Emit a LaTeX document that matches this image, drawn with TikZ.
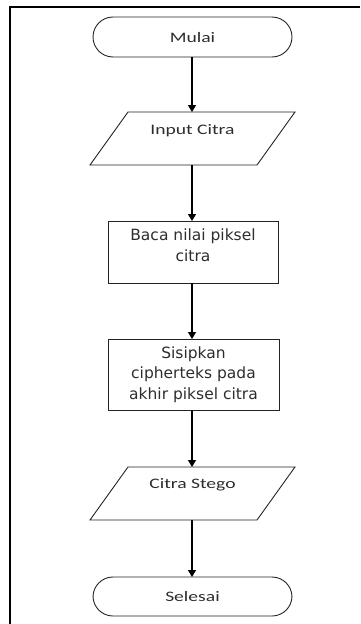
\documentclass[tikz,border=0pt]{standalone}
\usepackage{fontspec}
\usetikzlibrary{arrows.meta}
\newfontfamily\termfont[FakeStretch=1.35]{Carlito}
\newfontfamily\boxfont{DejaVu Sans}
\definecolor{ink}{RGB}{35,35,35}
\definecolor{txt}{RGB}{45,45,45}
\begin{document}
\begin{tikzpicture}[x=1pt,y=-1pt,
  every node/.style={inner sep=0pt, outer sep=0pt, text=txt},
  outline/.style={draw=ink, line width=0.9pt},
  term/.style={outline, rounded corners=20pt, minimum width=199pt, align=center,
    font=\termfont\fontsize{14.5}{17}\selectfont},
  io/.style={minimum width=167pt, align=center,
    font=\termfont\fontsize{14.5}{17}\selectfont},
  proc/.style={outline, align=center, font=\boxfont\fontsize{15.5}{20.5}\selectfont},
  flow/.style={draw=black, line width=1.2pt, -{Triangle[width=8pt,length=7pt]}}]
\useasboundingbox (0,0) rectangle (360,624);

% page frame (top and left edges)
\draw[line width=2pt] (360,6.5) -- (9.5,6.5) -- (9.5,624);

% flowchart steps (multi-line text sits on the baseline of its last line)
\node[term, text height=25.5pt, text depth=14.5pt, anchor=north] (start) at (192.5,17) {Mulai};
\node[io, text height=22.5pt, text depth=30.5pt, anchor=north] (input) at (192.5,112) {Input Citra};
\node[proc, minimum width=170pt, text height=40pt, text depth=22pt, anchor=north] (read) at (193,221) {Baca nilai piksel\\citra};
\node[proc, minimum width=171pt, text height=60pt, text depth=11pt, anchor=north] (embed) at (193.5,339) {Sisipkan\\cipherteks pada\\akhir piksel citra};
\node[io, text height=21.5pt, text depth=31.5pt, anchor=north] (stego) at (192.5,467) {Citra Stego};
\node[term, text height=24.5pt, text depth=14.5pt, anchor=north] (stop) at (192.5,577) {Selesai};

% input/output parallelograms
\foreach \n in {input,stego}{
  \draw[outline] ([xshift=19pt]\n.north west) -- ([xshift=19pt]\n.north east)
    -- ([xshift=-19pt]\n.south east) -- ([xshift=-19pt]\n.south west) -- cycle;
}

% connectors
\coordinate (axis) at (192,0);
\draw[flow] (axis |- start.south) -- (axis |- input.north);
\draw[flow] (axis |- input.south) -- (axis |- read.north);
\draw[flow] (axis |- read.south) -- (axis |- embed.north);
\draw[flow] (axis |- embed.south) -- (axis |- stego.north);
\draw[flow] (axis |- stego.south) -- (axis |- stop.north);
\end{tikzpicture}
\end{document}
